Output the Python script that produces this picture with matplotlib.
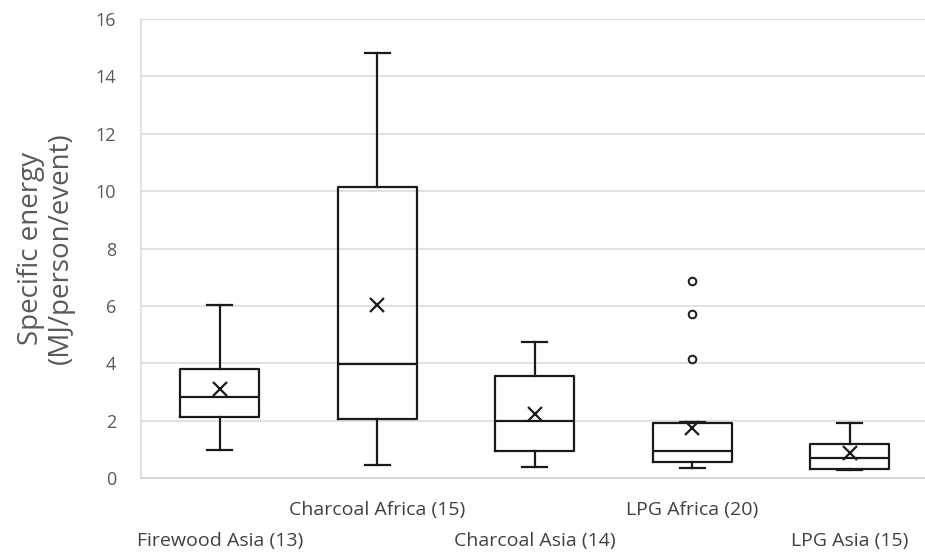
import matplotlib.pyplot as plt

plt.rcParams['font.family'] = ['Open Sans', 'DejaVu Sans']

categories = ["Firewood Asia (13)", "Charcoal Africa (15)", "Charcoal Asia (14)",
              "LPG Africa (20)", "LPG Asia (15)"]
whis_low = [0.98, 0.45, 0.40, 0.36, 0.27]
q1 = [2.12, 2.07, 0.93, 0.55, 0.30]
median = [2.81, 3.96, 2.00, 0.95, 0.70]
q3 = [3.79, 10.15, 3.55, 1.90, 1.19]
whis_high = [6.03, 14.82, 4.73, 1.95, 1.93]
means = [3.09, 6.04, 2.22, 1.76, 0.86]
outliers = [[], [], [], [4.14, 5.70, 6.85], []]
yticks = [0, 2, 4, 6, 8, 10, 12, 14, 16]

LINE = '#1a1a1a'
GRID = '#d9d9d9'
TXT = '#595959'


def main():
  fig = plt.figure(figsize=(9.25, 5.54), dpi=100)
  ax = fig.add_axes([141 / 925, 76 / 554, 784 / 925, 459 / 554])

  stats = []
  for i in range(len(categories)):
    stats.append({
      'label': categories[i],
      'whislo': whis_low[i], 'q1': q1[i], 'med': median[i],
      'q3': q3[i], 'whishi': whis_high[i], 'mean': means[i],
      'fliers': outliers[i],
    })

  pos = list(range(1, len(categories) + 1))
  ax.bxp(stats, positions=pos, widths=0.5, capwidths=0.16,
         showmeans=True, showfliers=True,
         boxprops=dict(color=LINE, linewidth=1.6),
         medianprops=dict(color=LINE, linewidth=1.6),
         whiskerprops=dict(color=LINE, linewidth=1.6),
         capprops=dict(color=LINE, linewidth=1.6),
         meanprops=dict(marker='x', markersize=10, markeredgecolor=LINE,
                        markeredgewidth=1.6),
         flierprops=dict(marker='o', markersize=5.5, markerfacecolor='white',
                         markeredgecolor=LINE, markeredgewidth=1.4))

  ax.set_xlim(0.5, 0.5 + 784 / 157.5)
  ax.set_ylim(0, 16)
  ax.set_yticks(yticks)
  ax.set_yticklabels([str(t) for t in yticks], fontsize=13, color=TXT)
  ax.tick_params(axis='y', length=0, pad=18)
  ax.set_xticks([])
  ax.yaxis.grid(True, color=GRID, linewidth=1.1)
  ax.set_axisbelow(True)

  for s in ['top', 'right']:
    ax.spines[s].set_visible(False)
  ax.spines['left'].set_color(GRID)
  ax.spines['bottom'].set_color('#cfcfcf')
  ax.spines['left'].set_linewidth(1.1)
  ax.spines['bottom'].set_linewidth(1.1)

  # staggered category labels like Excel
  for i in range(len(categories)):
    yoff = -0.0697 if i % 2 == 1 else -0.137
    ax.text(pos[i], yoff, categories[i], transform=ax.get_xaxis_transform(),
            ha='center', va='center', fontsize=14, color='#404040')

  ax.set_ylabel("Specific energy\n(MJ/person/event)", fontsize=20, color=TXT,
                linespacing=1.12)
  ax.yaxis.set_label_coords(-0.084, 0.5)

  fig.savefig('out.png', dpi=100)


if __name__ == "__main__":
  main()
